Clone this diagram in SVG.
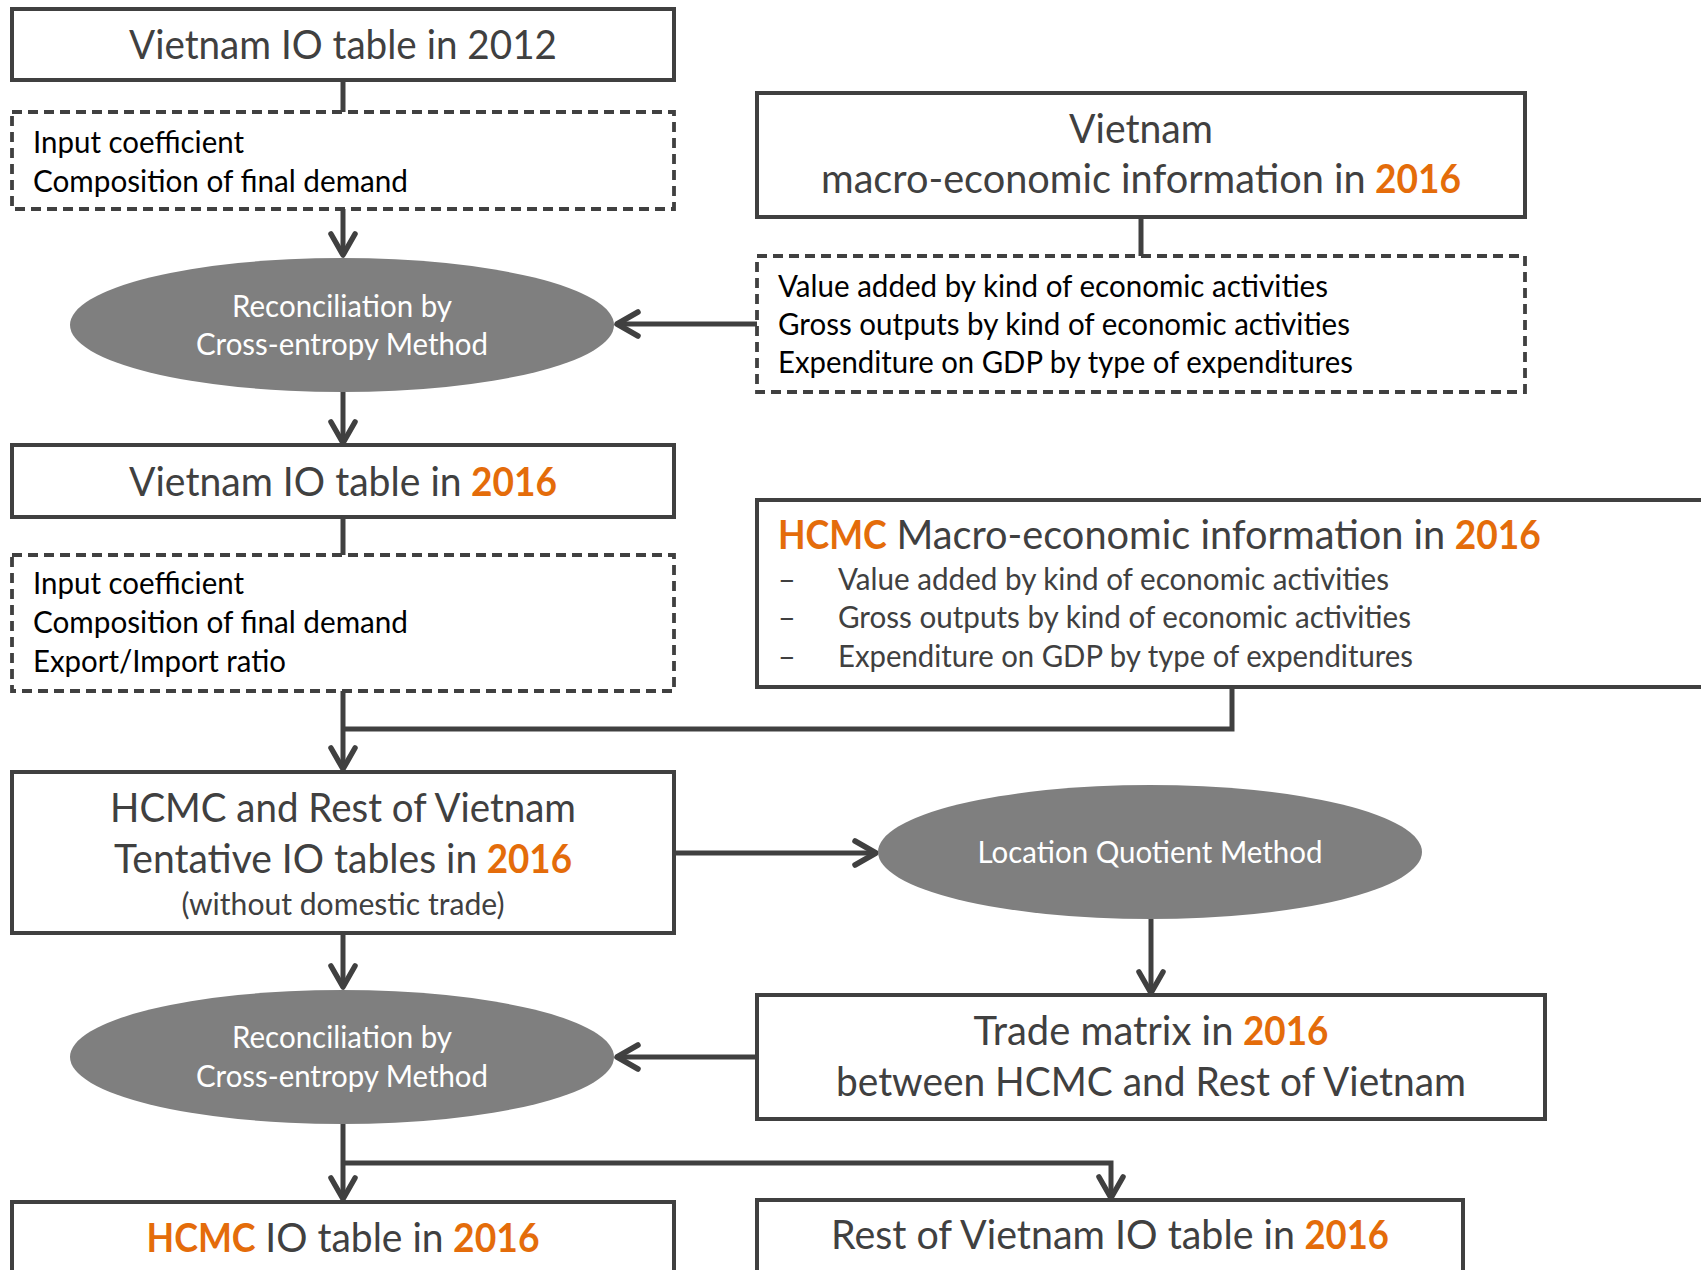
<svg xmlns="http://www.w3.org/2000/svg" width="1701" height="1270" viewBox="0 0 1701 1270">
<style>
.box{fill:#fff;stroke:#404040;stroke-width:4}
.dash{fill:#fff;stroke:#404040;stroke-width:3.8;stroke-dasharray:10 6}
.ell{fill:#7f7f7f}
.conn{fill:none;stroke:#404040;stroke-width:5}
.t{font-family:Lato,"Open Sans","Liberation Sans",sans-serif;}
.big{font-size:40px;fill:#404040}
.body{font-size:30.5px;fill:#000}
.grey{font-size:30.5px;fill:#404040}
.wh{font-size:30.5px;fill:#fff}
.or{fill:#E46C0A;font-weight:bold}
.mid{text-anchor:middle}
</style>
<defs>
<marker id="ah" markerUnits="userSpaceOnUse" markerWidth="40" markerHeight="40" viewBox="-30 -20 40 40" refX="0" refY="0" orient="auto">
<path d="M-21,-12 L0,0 L-21,12" fill="none" stroke="#404040" stroke-width="5.5" stroke-linecap="round" stroke-linejoin="round"/>
</marker>
</defs>
<g id="connectors">
<path class="conn" d="M343,80 V112"/>
<path class="conn" d="M343,209 V255" marker-end="url(#ah)"/>
<path class="conn" d="M1141,217 V256"/>
<path class="conn" d="M757,324 H617" marker-end="url(#ah)"/>
<path class="conn" d="M343,392 V443" marker-end="url(#ah)"/>
<path class="conn" d="M343,517 V555"/>
<path class="conn" d="M343,691 V769" marker-end="url(#ah)"/>
<path class="conn" d="M1232,687 V729 H343"/>
<path class="conn" d="M674,853 H876" marker-end="url(#ah)"/>
<path class="conn" d="M1151,919 V993" marker-end="url(#ah)"/>
<path class="conn" d="M757,1057 H617" marker-end="url(#ah)"/>
<path class="conn" d="M343,933 V987" marker-end="url(#ah)"/>
<path class="conn" d="M343,1124 V1199" marker-end="url(#ah)"/>
<path class="conn" d="M343,1163 H1111 V1198" marker-end="url(#ah)"/>
</g>
<g id="vn2012">
<rect class="box" x="12" y="9" width="662" height="71"/>
<text class="t big mid" x="343" y="59" textLength="428" lengthAdjust="spacingAndGlyphs">Vietnam IO table in 2012</text>
</g>
<g id="coef2012">
<rect class="dash" x="12" y="112" width="662" height="97"/>
<text class="t body" x="33" y="153" textLength="211" lengthAdjust="spacingAndGlyphs">Input coefficient</text>
<text class="t body" x="33" y="192" textLength="375" lengthAdjust="spacingAndGlyphs">Composition of final demand</text>
</g>
<g id="recon1">
<ellipse class="ell" cx="342" cy="325" rx="272" ry="67"/>
<text class="t wh mid" x="342" y="317" textLength="220" lengthAdjust="spacingAndGlyphs">Reconciliation by</text>
<text class="t wh mid" x="342" y="355" textLength="292" lengthAdjust="spacingAndGlyphs">Cross-entropy Method</text>
</g>
<g id="vnmacro">
<rect class="box" x="757" y="93" width="768" height="124"/>
<text class="t big mid" x="1141" y="143" textLength="144" lengthAdjust="spacingAndGlyphs">Vietnam</text>
<text class="t big" x="821" y="193" textLength="544.6" lengthAdjust="spacingAndGlyphs">macro-economic information in</text>
<text class="t big or" x="1375" y="193" textLength="86" lengthAdjust="spacingAndGlyphs">2016</text>
</g>
<g id="vnmacroitems">
<rect class="dash" x="757" y="256" width="768" height="136"/>
<text class="t body" x="778" y="297" textLength="550" lengthAdjust="spacingAndGlyphs">Value added by kind of economic activities</text>
<text class="t body" x="778" y="335" textLength="572" lengthAdjust="spacingAndGlyphs">Gross outputs by kind of economic activities</text>
<text class="t body" x="778" y="373" textLength="575" lengthAdjust="spacingAndGlyphs">Expenditure on GDP by type of expenditures</text>
</g>
<g id="vn2016">
<rect class="box" x="12" y="445" width="662" height="72"/>
<text class="t big" x="129" y="496" textLength="332.6" lengthAdjust="spacingAndGlyphs">Vietnam IO table in</text>
<text class="t big or" x="471.1" y="496" textLength="85.9" lengthAdjust="spacingAndGlyphs">2016</text>
</g>
<g id="coef2016">
<rect class="dash" x="12" y="555" width="662" height="136"/>
<text class="t body" x="33" y="594" textLength="211" lengthAdjust="spacingAndGlyphs">Input coefficient</text>
<text class="t body" x="33" y="633" textLength="375" lengthAdjust="spacingAndGlyphs">Composition of final demand</text>
<text class="t body" x="33" y="672" textLength="253" lengthAdjust="spacingAndGlyphs">Export/Import ratio</text>
</g>
<g id="hcmcmacro">
<rect class="box" x="757" y="500" width="970" height="187"/>
<text class="t big or" x="778" y="549" textLength="108.8" lengthAdjust="spacingAndGlyphs">HCMC</text>
<text class="t big" x="896.4" y="549" textLength="548.8" lengthAdjust="spacingAndGlyphs">Macro-economic information in</text>
<text class="t big or" x="1454.8" y="549" textLength="86.1" lengthAdjust="spacingAndGlyphs">2016</text>
<text class="t grey" x="778" y="590">–</text>
<text class="t grey" x="838" y="590" textLength="551" lengthAdjust="spacingAndGlyphs">Value added by kind of economic activities</text>
<text class="t grey" x="778" y="628">–</text>
<text class="t grey" x="838" y="628" textLength="573" lengthAdjust="spacingAndGlyphs">Gross outputs by kind of economic activities</text>
<text class="t grey" x="778" y="667">–</text>
<text class="t grey" x="838" y="667" textLength="575" lengthAdjust="spacingAndGlyphs">Expenditure on GDP by type of expenditures</text>
</g>
<g id="tentative">
<rect class="box" x="12" y="772" width="662" height="161"/>
<text class="t big mid" x="343" y="822" textLength="466" lengthAdjust="spacingAndGlyphs">HCMC and Rest of Vietnam</text>
<text class="t big" x="114" y="873" textLength="363.2" lengthAdjust="spacingAndGlyphs">Tentative IO tables in</text>
<text class="t big or" x="486.7" y="873" textLength="85.3" lengthAdjust="spacingAndGlyphs">2016</text>
<text class="t grey mid" x="343" y="915" textLength="323" lengthAdjust="spacingAndGlyphs">(without domestic trade)</text>
</g>
<g id="lq">
<ellipse class="ell" cx="1150" cy="852" rx="272" ry="67"/>
<text class="t wh mid" x="1150" y="863" textLength="345" lengthAdjust="spacingAndGlyphs">Location Quotient Method</text>
</g>
<g id="trade">
<rect class="box" x="757" y="995" width="788" height="124"/>
<text class="t big" x="973.5" y="1045" textLength="260" lengthAdjust="spacingAndGlyphs">Trade matrix in</text>
<text class="t big or" x="1243" y="1045" textLength="85.5" lengthAdjust="spacingAndGlyphs">2016</text>
<text class="t big mid" x="1151" y="1096" textLength="630" lengthAdjust="spacingAndGlyphs">between HCMC and Rest of Vietnam</text>
</g>
<g id="recon2">
<ellipse class="ell" cx="342" cy="1057" rx="272" ry="67"/>
<text class="t wh mid" x="342" y="1048" textLength="220" lengthAdjust="spacingAndGlyphs">Reconciliation by</text>
<text class="t wh mid" x="342" y="1087" textLength="292" lengthAdjust="spacingAndGlyphs">Cross-entropy Method</text>
</g>
<g id="hcmcio">
<rect class="box" x="12" y="1202" width="662" height="100"/>
<text class="t big or" x="146.5" y="1252" textLength="109.1" lengthAdjust="spacingAndGlyphs">HCMC</text>
<text class="t big" x="265.3" y="1252" textLength="178.3" lengthAdjust="spacingAndGlyphs">IO table in</text>
<text class="t big or" x="453.1" y="1252" textLength="86.4" lengthAdjust="spacingAndGlyphs">2016</text>
</g>
<g id="restio">
<rect class="box" x="757" y="1200" width="706" height="100"/>
<text class="t big" x="831" y="1249" textLength="464" lengthAdjust="spacingAndGlyphs">Rest of Vietnam IO table in</text>
<text class="t big or" x="1304.5" y="1249" textLength="84.5" lengthAdjust="spacingAndGlyphs">2016</text>
</g>
</svg>
